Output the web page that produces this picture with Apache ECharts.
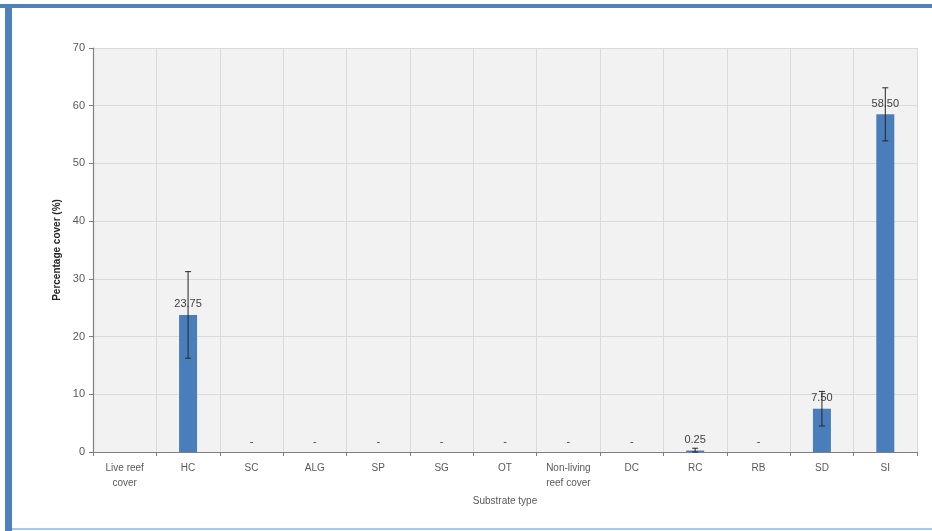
<!DOCTYPE html>
<html>
<head>
<meta charset="utf-8">
<script src="https://cdn.jsdelivr.net/npm/echarts@6/dist/echarts.min.js"></script>
<style>
html,body{margin:0;padding:0;background:#fff;}
#chart{width:932px;height:531px;}
</style>
</head>
<body>
<div id="chart"></div>
<script>
const categories = ['Live reef\ncover','HC','SC','ALG','SP','SG','OT','Non-living\nreef cover','DC','RC','RB','SD','SI'];
const values = [null, 23.75, 0, 0, 0, 0, 0, 0, 0, 0.25, 0, 7.5, 58.5];
const errors = [null, 7.5, null, null, null, null, null, null, null, 0.4, null, 3.0, 4.6];
const yTicks = [0, 10, 20, 30, 40, 50, 60, 70];

const chart = echarts.init(document.getElementById('chart'), null, {renderer:'canvas'});
const FONT = 'Liberation Sans, Arial, sans-serif';

const errData = [];
categories.forEach((c, i) => { if (errors[i] != null) errData.push([i, values[i], errors[i]]); });

chart.setOption({
  backgroundColor: '#ffffff',
  animation: false,
  graphic: [
    {type:'rect', shape:{x:0, y:4, width:932, height:4}, style:{fill:'#4f81bd'}, z:100},
    {type:'rect', shape:{x:5, y:4, width:7, height:527}, style:{fill:'#4f81bd'}, z:100},
    {type:'rect', shape:{x:12, y:528, width:920, height:2}, style:{fill:'#a9c8ea'}, z:100}
  ],
  grid: {left: 93, right: 15, top: 48, bottom: 79, show: true, backgroundColor: '#f2f2f2', borderWidth: 0},
  xAxis: {
    type: 'category',
    data: categories,
    name: 'Substrate type',
    nameLocation: 'middle',
    nameGap: 44,
    nameTextStyle: {fontFamily: FONT, fontSize: 10, color: '#595959'},
    axisLine: {show: true, lineStyle: {color: '#7f7f7f', width: 1.2}},
    axisTick: {show: true, alignWithLabel: false, length: 4, lineStyle: {color: '#7f7f7f'}},
    axisLabel: {fontFamily: FONT, fontSize: 10, color: '#595959', lineHeight: 15, margin: 9, interval: 0},
    splitLine: {show: true, lineStyle: {color: '#dadada', width: 1}}
  },
  yAxis: {
    type: 'value',
    min: yTicks[0],
    max: yTicks[yTicks.length - 1],
    interval: 10,
    name: 'Percentage cover (%)',
    nameLocation: 'middle',
    nameGap: 30,
    nameRotate: 90,
    nameTextStyle: {fontFamily: FONT, fontSize: 10, color: '#262626', fontWeight: 'bold'},
    axisLine: {show: true, lineStyle: {color: '#7f7f7f', width: 1.2}},
    axisTick: {show: true, length: 4, lineStyle: {color: '#7f7f7f'}},
    axisLabel: {fontFamily: FONT, fontSize: 11, color: '#595959', margin: 8},
    splitLine: {show: true, lineStyle: {color: '#dadada', width: 1}}
  },
  series: [
    {
      type: 'bar',
      data: values,
      barWidth: 18,
      itemStyle: {color: '#4a7ebb'},
      label: {
        show: true,
        position: 'top',
        distance: 5,
        fontFamily: FONT,
        fontSize: 11,
        color: '#404040',
        formatter: p => (p.value == null ? '' : (p.value === 0 ? '-' : p.value.toFixed(2)))
      },
      z: 2
    },
    {
      type: 'custom',
      data: errData,
      z: 5,
      renderItem: function (params, api) {
        const i = api.value(0), v = api.value(1), e = api.value(2);
        const top = api.coord([i, v + e]);
        const bot = api.coord([i, Math.max(v - e, 0)]);
        const cap = 3;
        const style = {stroke: '#262626', lineWidth: 1};
        return {
          type: 'group',
          children: [
            {type: 'line', shape: {x1: top[0], y1: top[1], x2: bot[0], y2: bot[1]}, style: style},
            {type: 'line', shape: {x1: top[0] - cap, y1: top[1], x2: top[0] + cap, y2: top[1]}, style: style},
            {type: 'line', shape: {x1: bot[0] - cap, y1: bot[1], x2: bot[0] + cap, y2: bot[1]}, style: style}
          ]
        };
      }
    }
  ]
});
</script>
</body>
</html>
